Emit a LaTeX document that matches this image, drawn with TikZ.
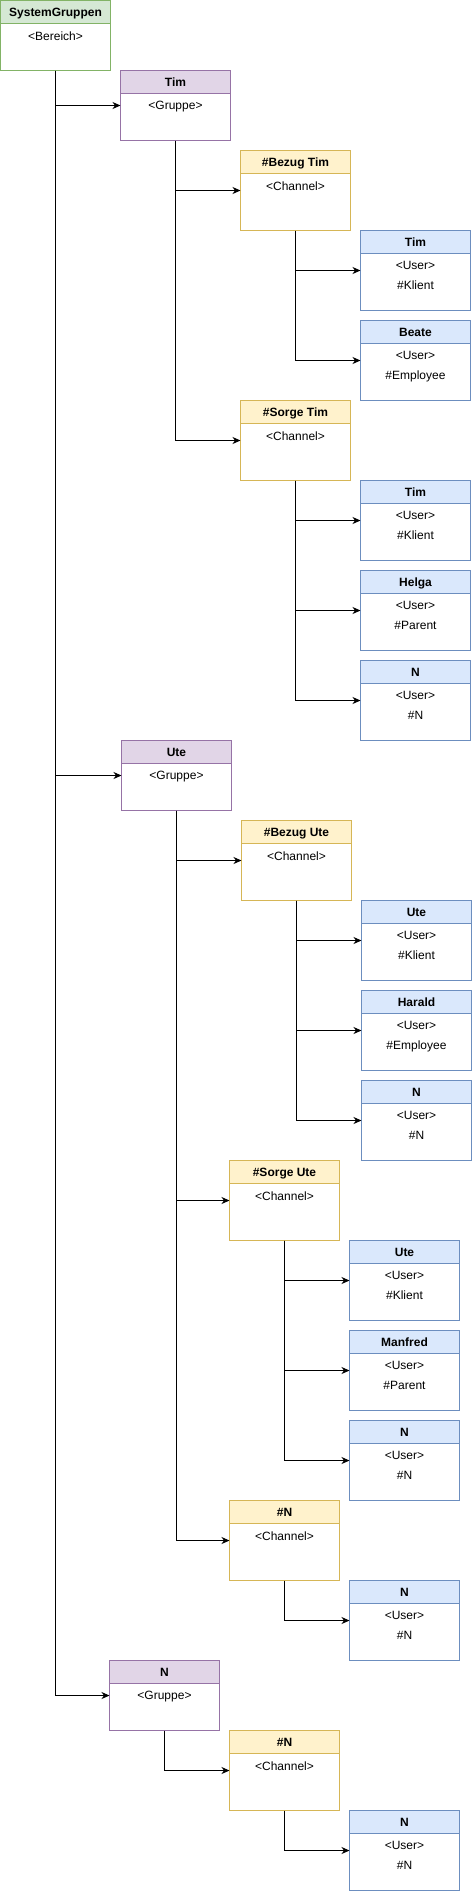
\documentclass[tikz,border=0pt]{standalone}
\usepackage{fontspec}
\setmainfont{Liberation Sans}
\usetikzlibrary{arrows.meta}

\definecolor{grnfill}{HTML}{D5E8D4}
\definecolor{grnline}{HTML}{82B366}
\definecolor{purfill}{HTML}{E1D5E7}
\definecolor{purline}{HTML}{9673A6}
\definecolor{yelfill}{HTML}{FFF2CC}
\definecolor{yelline}{HTML}{D6B656}
\definecolor{blufill}{HTML}{DAE8FC}
\definecolor{bluline}{HTML}{6C8EBF}

\tikzset{
  boxframe/.style={draw, line width=1pt, fill=white, minimum width=110pt,
    anchor=north west, inner sep=0pt, outer sep=0pt},
  boxhead/.style={draw, line width=1pt, minimum width=110pt, minimum height=23pt,
    inner sep=0pt, outer sep=0pt, text height=8.6pt, text depth=0pt,
    font=\bfseries\fontsize{12pt}{14pt}\selectfont},
  boxbody/.style={inner sep=0pt, align=center, font=\fontsize{12pt}{20pt}\selectfont},
  link/.style={line width=1pt, -{Stealth[length=8pt, width=7pt, inset=2.5pt]}}
}

% name, colour, x, y (top left), height, title, body
\newcommand{\umlbox}[7]{%
  \node[boxframe, draw=#2line, minimum height=#5pt] (#1) at (#3,#4) {};
  \node[boxhead, draw=#2line, fill=#2fill, anchor=north] (#1-head) at (#1.north) {#6};
  \node[boxbody, anchor=north] (#1-body) at ([yshift=-7.6pt]#1-head.south) {#7};
}

\begin{document}
\begin{tikzpicture}[x=1pt, y=1pt]
    \useasboundingbox (-0.5,0.5) rectangle (471.5,-1890.5);

    % Bereich
    \umlbox{sys}{grn}{0}{0}{70}{SystemGruppen}{<Bereich>}

    % Gruppe Tim
    \umlbox{gtim}{pur}{120}{-70}{70}{Tim}{<Gruppe>}
    \umlbox{cbezugtim}{yel}{240}{-150}{80}{\#Bezug Tim}{<Channel>}
    \umlbox{utimk}{blu}{360}{-230}{80}{Tim}{<User>\\\#Klient}
    \umlbox{ubeate}{blu}{360}{-320}{80}{Beate}{<User>\\\#Employee}
    \umlbox{csorgetim}{yel}{240}{-400}{80}{\#Sorge Tim}{<Channel>}
    \umlbox{utimp}{blu}{360}{-480}{80}{Tim}{<User>\\\#Klient}
    \umlbox{uhelga}{blu}{360}{-570}{80}{Helga}{<User>\\\#Parent}
    \umlbox{untim}{blu}{360}{-660}{80}{N}{<User>\\\#N}

    % Gruppe Ute
    \umlbox{gute}{pur}{121}{-740}{70}{Ute}{<Gruppe>}
    \umlbox{cbezugute}{yel}{241}{-820}{80}{\#Bezug Ute}{<Channel>}
    \umlbox{uutek}{blu}{361}{-900}{80}{Ute}{<User>\\\#Klient}
    \umlbox{uharald}{blu}{361}{-990}{80}{Harald}{<User>\\\#Employee}
    \umlbox{unbezug}{blu}{361}{-1080}{80}{N}{<User>\\\#N}
    \umlbox{csorgeute}{yel}{229}{-1160}{80}{\#Sorge Ute}{<Channel>}
    \umlbox{uutep}{blu}{349}{-1240}{80}{Ute}{<User>\\\#Klient}
    \umlbox{umanfred}{blu}{349}{-1330}{80}{Manfred}{<User>\\\#Parent}
    \umlbox{unsorge}{blu}{349}{-1420}{80}{N}{<User>\\\#N}
    \umlbox{cnute}{yel}{229}{-1500}{80}{\#N}{<Channel>}
    \umlbox{uncute}{blu}{349}{-1580}{80}{N}{<User>\\\#N}

    % Gruppe N
    \umlbox{gn}{pur}{109}{-1660}{70}{N}{<Gruppe>}
    \umlbox{cn}{yel}{229}{-1730}{80}{\#N}{<Channel>}
    \umlbox{ucn}{blu}{349}{-1810}{80}{N}{<User>\\\#N}

    % Connectors
    \draw[link] (sys.south) |- (gtim.west);
    \draw[link] (sys.south) |- (gute.west);
    \draw[link] (sys.south) |- (gn.west);

    \draw[link] (gtim.south) |- (cbezugtim.west);
    \draw[link] (gtim.south) |- (csorgetim.west);
    \draw[link] (cbezugtim.south) |- (utimk.west);
    \draw[link] (cbezugtim.south) |- (ubeate.west);
    \draw[link] (csorgetim.south) |- (utimp.west);
    \draw[link] (csorgetim.south) |- (uhelga.west);
    \draw[link] (csorgetim.south) |- (untim.west);

    \draw[link] (gute.south) |- (cbezugute.west);
    \draw[link] (gute.south) |- (csorgeute.west);
    \draw[link] (gute.south) |- (cnute.west);
    \draw[link] (cbezugute.south) |- (uutek.west);
    \draw[link] (cbezugute.south) |- (uharald.west);
    \draw[link] (cbezugute.south) |- (unbezug.west);
    \draw[link] (csorgeute.south) |- (uutep.west);
    \draw[link] (csorgeute.south) |- (umanfred.west);
    \draw[link] (csorgeute.south) |- (unsorge.west);
    \draw[link] (cnute.south) |- (uncute.west);

    \draw[link] (gn.south) |- (cn.west);
    \draw[link] (cn.south) |- (ucn.west);
\end{tikzpicture}
\end{document}
